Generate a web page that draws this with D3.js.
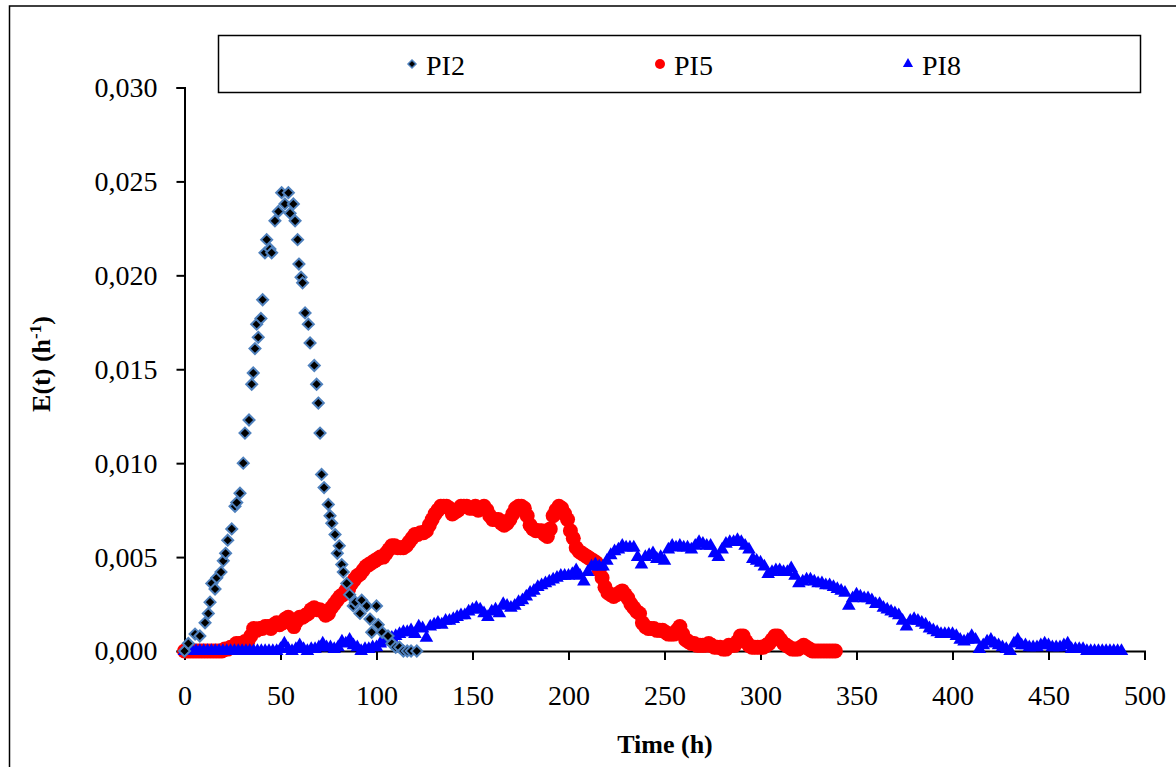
<!DOCTYPE html>
<html>
<head>
<meta charset="utf-8">
<script src="https://cdn.jsdelivr.net/npm/d3@7"></script>
<style>
  body { margin: 0; background: #fff; }
  svg { display: block; }
</style>
</head>
<body>
<div id="chart"></div>
<script>
const svgWidth = 1176;
const svgHeight = 767;

// Data: time (h) and E(t) (h-1)
const seriesNames = ["PI2", "PI5", "PI8"];

const pi2Time = [0, 2, 5.5, 8, 10.7, 12.4, 13.3, 14.2, 15.9, 16.8, 19, 20.2, 21.4, 22.5, 24.6, 26.3, 27.2, 28.9, 30.6, 31.5,
  33.6, 35, 35.8, 36.7, 37.6, 38.4, 39.8, 40.7, 41.9, 42.8, 44.5, 45.4, 47.1, 48.9, 50.6, 52.3, 54.1, 55, 56.7, 57.6,
  58.9, 59.6, 60.7, 61.5, 62.8, 64.5, 65.4, 67.6, 68.8, 69.7, 70.6, 71.4, 72.7, 74.9, 75.8, 76.7, 78.4, 79.6, 80.6, 81.9,
  82.7, 84.5, 86, 87.9, 89, 91.4, 92.3, 94.9, 96.6, 97.5, 100, 100.9, 103, 106, 108, 110, 112, 114, 116, 118, 121];
const pi2E = [0, 0.0004, 0.0009, 0.0008, 0.0015, 0.0020, 0.0026, 0.0036, 0.0033, 0.0039, 0.0042, 0.0048, 0.0052, 0.0059, 0.0065, 0.0077, 0.0079, 0.0084, 0.0100, 0.0116,
  0.0123, 0.0142, 0.0148, 0.0161, 0.0174, 0.0167, 0.0177, 0.0187, 0.0212, 0.0219, 0.0214, 0.0212, 0.0229, 0.0234, 0.0244, 0.0238, 0.0244, 0.0233, 0.0238, 0.0229,
  0.0219, 0.0206, 0.0199, 0.0196, 0.0180, 0.0174, 0.0164, 0.0152, 0.0142, 0.0132, 0.0116, 0.0094, 0.0087, 0.0078, 0.0072, 0.0068, 0.0062, 0.0052, 0.0056, 0.0046,
  0.0042, 0.0036, 0.0030, 0.0024, 0.0026, 0.0020, 0.0027, 0.0024, 0.0017, 0.0010, 0.0024, 0.0014, 0.0010, 0.0008, 0.0004, 0.0002, 0.0002, 0, 0, 0, 0];

const pi5Time = [0, 1.5, 3, 4.5, 6, 7.5, 9, 10.5, 12, 13.5, 15, 16.5, 18, 19.5, 21, 22.5, 24, 25.5, 27, 28.5,
  30, 31.5, 33, 34.5, 36, 37.5, 39, 40.5, 42, 43.5, 45, 46.5, 48, 49.5, 51, 52.5, 54, 55.5, 57, 58.5,
  60, 61.5, 63, 64.5, 66, 67.5, 69, 70.5, 72, 73.5, 75, 76.5, 78, 79.5, 81, 82.5, 84, 85.5, 87, 88.5,
  90, 91.5, 93, 94.5, 96, 97.5, 99, 100.5, 102, 103.5, 105, 106.5, 108, 109.5, 111, 112.5, 114, 115.5, 117, 118.5,
  120, 121.5, 123, 124.5, 126, 127.5, 129, 130.5, 132, 133.5, 135, 136.5, 138, 139.5, 141, 142.5, 144, 145.5, 147, 148.5,
  150, 151.5, 153, 154.5, 156, 157.5, 159, 160.5, 162, 163.5, 165, 166.5, 168, 169.5, 171, 172.5, 174, 175.5, 177, 178.5,
  180, 181.5, 183, 184.5, 186, 187.5, 189, 190.5, 192, 193.5, 195, 196.5, 198, 199.5, 201, 202.5, 204, 205.5, 207, 208.5,
  210, 211.5, 213, 214.5, 216, 217.5, 219, 220.5, 222, 223.5, 225, 226.5, 228, 229.5, 231, 232.5, 234, 235.5, 237, 238.5,
  240, 241.5, 243, 244.5, 246, 247.5, 249, 250.5, 252, 253.5, 255, 256.5, 258, 259.5, 261, 262.5, 264, 265.5, 267, 268.5,
  270, 271.5, 273, 274.5, 276, 277.5, 279, 280.5, 282, 283.5, 285, 286.5, 288, 289.5, 291, 292.5, 294, 295.5, 297, 298.5,
  300, 301.5, 303, 304.5, 306, 307.5, 309, 310.5, 312, 313.5, 315, 316.5, 318, 319.5, 321, 322.5, 324, 325.5, 327, 328.5,
  330, 331.5, 333, 334.5, 336, 337.5, 339];
const pi5E = [0, 0, 0, 0, 0, 0, 0, 0, 0, 0, 0, 0, 0, 0, 0.0001, 0.0001, 0.0002, 0.0002, 0.0004, 0.0004,
  0.0004, 0.0005, 0.0005, 0.0008, 0.0012, 0.0011, 0.0012, 0.0012, 0.0013, 0.0013, 0.0012, 0.0014, 0.0015, 0.0014, 0.0015, 0.0017, 0.0018, 0.0015, 0.0013, 0.0016,
  0.0018, 0.0018, 0.0019, 0.0020, 0.0022, 0.0023, 0.0022, 0.0022, 0.0021, 0.0019, 0.0020, 0.0023, 0.0025, 0.0027, 0.0029, 0.0030, 0.0032, 0.0033, 0.0036, 0.0038,
  0.0040, 0.0041, 0.0043, 0.0045, 0.0046, 0.0047, 0.0048, 0.0049, 0.0050, 0.0050, 0.0052, 0.0054, 0.0056, 0.0056, 0.0055, 0.0055, 0.0055, 0.0056, 0.0058, 0.0060,
  0.0062, 0.0062, 0.0063, 0.0063, 0.0064, 0.0067, 0.0070, 0.0073, 0.0075, 0.0077, 0.0077, 0.0077, 0.0076, 0.0073, 0.0074, 0.0075, 0.0077, 0.0077, 0.0077, 0.0076,
  0.0076, 0.0077, 0.0075, 0.0076, 0.0077, 0.0075, 0.0072, 0.0070, 0.0070, 0.0070, 0.0068, 0.0067, 0.0068, 0.0070, 0.0073, 0.0076, 0.0077, 0.0077, 0.0076, 0.0072,
  0.0067, 0.0065, 0.0064, 0.0064, 0.0064, 0.0062, 0.0061, 0.0065, 0.0072, 0.0075, 0.0077, 0.0076, 0.0073, 0.0070, 0.0064, 0.0060, 0.0055, 0.0053, 0.0052, 0.0051,
  0.0050, 0.0049, 0.0048, 0.0047, 0.0043, 0.0039, 0.0034, 0.0031, 0.0030, 0.0029, 0.0030, 0.0031, 0.0032, 0.0030, 0.0028, 0.0025, 0.0023, 0.0021, 0.0020, 0.0015,
  0.0013, 0.0012, 0.0012, 0.0012, 0.0011, 0.0011, 0.0011, 0.0010, 0.0009, 0.0009, 0.0009, 0.0011, 0.0013, 0.0009, 0.0006, 0.0005, 0.0004, 0.0004, 0.0003, 0.0003,
  0.0003, 0.0003, 0.0004, 0.0003, 0.0002, 0.0002, 0.0002, 0.0001, 0.0001, 0.0003, 0.0003, 0.0003, 0.0005, 0.0008, 0.0008, 0.0005, 0.0003, 0.0002, 0.0002, 0.0002,
  0.0002, 0.0002, 0.0003, 0.0004, 0.0006, 0.0008, 0.0008, 0.0006, 0.0004, 0.0003, 0.0002, 0.0001, 0.0001, 0.0001, 0.0002, 0.0003, 0.0002, 0.0001, 0, 0,
  0, 0, 0, 0, 0, 0, 0];

const pi8Time = [0, 2, 4, 6, 8, 10, 12, 14, 16, 18, 20, 22, 24, 26, 28, 30, 32, 34, 36, 38,
  40, 42, 44, 46, 48, 50, 52, 54, 56, 58, 60, 62, 64, 66, 68, 70, 72, 74, 76, 78,
  80, 82, 84, 86, 88, 90, 92, 94, 96, 98, 100, 102, 104, 106, 108, 110, 112, 114, 116, 118,
  120, 122, 124, 126, 128, 130, 132, 134, 136, 138, 140, 142, 144, 146, 148, 150, 152, 154, 156, 158,
  160, 162, 164, 166, 168, 170, 172, 174, 176, 178, 180, 182, 184, 186, 188, 190, 192, 194, 196, 198,
  200, 202, 204, 206, 208, 210, 212, 214, 216, 218, 220, 222, 224, 226, 228, 230, 232, 234, 236, 238,
  240, 242, 244, 246, 248, 250, 252, 254, 256, 258, 260, 262, 264, 266, 268, 270, 272, 274, 276, 278,
  280, 282, 284, 286, 288, 290, 292, 294, 296, 298, 300, 302, 304, 306, 308, 310, 312, 314, 316, 318,
  320, 322, 324, 326, 328, 330, 332, 334, 336, 338, 340, 342, 344, 346, 348, 350, 352, 354, 356, 358,
  360, 362, 364, 366, 368, 370, 372, 374, 376, 378, 380, 382, 384, 386, 388, 390, 392, 394, 396, 398,
  400, 402, 404, 406, 408, 410, 412, 414, 416, 418, 420, 422, 424, 426, 428, 430, 432, 434, 436, 438,
  440, 442, 444, 446, 448, 450, 452, 454, 456, 458, 460, 462, 464, 466, 468, 470, 472, 474, 476, 478,
  480, 482, 484, 486, 488];
const pi8E = [0, 0, 0, 0, 0, 0, 0, 0, 0, 0, 0, 0, 0, 0, 0, 0, 0, 0, 0, 0,
  0, 0, 0, 0, 0, 0.0001, 0.0004, 0.0001, 0, 0.0001, 0.0003, 0.0001, 0, 0.0001, 0.0001, 0.0002, 0.0004, 0.0002, 0.0002, 0.0001,
  0.0002, 0.0005, 0.0004, 0.0006, 0.0003, 0.0002, 0, 0.0001, 0.0001, 0.0002, 0.0002, 0.0004, 0.0005, 0.0007, 0.0007, 0.0008, 0.0009, 0.0010, 0.0010, 0.0011,
  0.0009, 0.0013, 0.0012, 0.0007, 0.0013, 0.0014, 0.0015, 0.0014, 0.0016, 0.0016, 0.0017, 0.0018, 0.0019, 0.0019, 0.0021, 0.0022, 0.0023, 0.0022, 0.0020, 0.0018,
  0.0021, 0.0022, 0.0020, 0.0025, 0.0024, 0.0023, 0.0024, 0.0026, 0.0027, 0.0029, 0.0031, 0.0032, 0.0034, 0.0035, 0.0036, 0.0037, 0.0038, 0.0039, 0.0040, 0.0040,
  0.0040, 0.0041, 0.0043, 0.0040, 0.0037, 0.0042, 0.0045, 0.0046, 0.0045, 0.0045, 0.0048, 0.0051, 0.0053, 0.0054, 0.0056, 0.0055, 0.0055, 0.0055, 0.0050, 0.0046,
  0.0050, 0.0051, 0.0052, 0.0049, 0.0050, 0.0048, 0.0054, 0.0056, 0.0055, 0.0056, 0.0055, 0.0055, 0.0054, 0.0056, 0.0058, 0.0057, 0.0056, 0.0056, 0.0052, 0.0050,
  0.0054, 0.0057, 0.0058, 0.0058, 0.0059, 0.0058, 0.0056, 0.0054, 0.0049, 0.0048, 0.0047, 0.0045, 0.0041, 0.0042, 0.0043, 0.0043, 0.0042, 0.0042, 0.0044, 0.0040,
  0.0036, 0.0037, 0.0038, 0.0038, 0.0037, 0.0036, 0.0036, 0.0035, 0.0035, 0.0034, 0.0033, 0.0032, 0.0031, 0.0024, 0.0028, 0.0030, 0.0029, 0.0028, 0.0028, 0.0027,
  0.0025, 0.0025, 0.0023, 0.0022, 0.0021, 0.0020, 0.0019, 0.0016, 0.0013, 0.0016, 0.0017, 0.0016, 0.0015, 0.0014, 0.0012, 0.0011, 0.0010, 0.0009, 0.0009, 0.0009,
  0.0009, 0.0008, 0.0006, 0.0005, 0.0006, 0.0008, 0.0006, 0.0001, 0.0003, 0.0005, 0.0006, 0.0004, 0.0003, 0.0002, 0.0001, 0, 0.0004, 0.0006, 0.0003, 0.0003,
  0.0002, 0.0002, 0.0002, 0.0003, 0.0004, 0.0003, 0.0002, 0.0002, 0.0002, 0.0003, 0.0004, 0.0001, 0.0001, 0.0001, 0.0001, 0, 0, 0, 0, 0,
  0, 0, 0, 0, 0];

const xTicks = [0, 50, 100, 150, 200, 250, 300, 350, 400, 450, 500];
const yTicks = [0, 0.005, 0.010, 0.015, 0.020, 0.025, 0.030];

const zip = (ts, es) => ts.map((t, i) => ({t: t, e: es[i]}));
const pi2 = zip(pi2Time, pi2E);
const pi5 = zip(pi5Time, pi5E);
const pi8 = zip(pi8Time, pi8E);

const font = "'Liberation Serif', 'Times New Roman', serif";
const comma = d3.formatLocale({decimal: ",", thousands: ".", grouping: [3], currency: ["", ""]});

const x = d3.scaleLinear().domain([0, 500]).range([184.5, 1144.5]);
const y = d3.scaleLinear().domain([0, 0.030]).range([651, 87.5]);

const svg = d3.select("#chart")
    .append("svg")
    .attr("width", svgWidth)
    .attr("height", svgHeight);

// outer chart frame (runs off the right and bottom edge)
svg.append("rect")
    .attr("x", 9.5)
    .attr("y", 6)
    .attr("width", 1200)
    .attr("height", 800)
    .attr("fill", "none")
    .attr("stroke", "#000")
    .attr("stroke-width", 1.5);

// axes
const xAxis = d3.axisBottom(x)
    .tickValues(xTicks)
    .tickSize(9)
    .tickPadding(25)
    .tickFormat(d3.format("d"));

const yAxis = d3.axisLeft(y)
    .tickValues(yTicks)
    .tickSize(8)
    .tickPadding(19)
    .tickFormat(comma.format(".3f"));

const gx = svg.append("g")
    .attr("transform", `translate(0,${y(0)})`)
    .call(xAxis);

const gy = svg.append("g")
    .attr("transform", `translate(${x(0)},0)`)
    .call(yAxis);

[gx, gy].forEach(g => {
    g.selectAll("path, line").attr("stroke", "#000").attr("stroke-width", 2);
    g.selectAll("text")
        .attr("font-family", font)
        .attr("font-size", "28px")
        .attr("fill", "#000");
});

// axis titles
svg.append("text")
    .attr("x", 665)
    .attr("y", 753)
    .attr("text-anchor", "middle")
    .attr("font-family", font)
    .attr("font-size", "26px")
    .attr("font-weight", "bold")
    .text("Time (h)");

const yTitle = svg.append("text")
    .attr("transform", "translate(50,364) rotate(-90)")
    .attr("text-anchor", "middle")
    .attr("font-family", font)
    .attr("font-size", "26px")
    .attr("font-weight", "bold");
yTitle.append("tspan").text("E(t) (h");
yTitle.append("tspan").attr("font-size", "17px").attr("dy", "-9").text("-1");
yTitle.append("tspan").attr("dy", "9").text(")");

// marker shapes
const diamond = s => `M0,${-s}L${s},0L0,${s}L${-s},0Z`;
const triangle = d3.symbol().type(d3.symbolTriangle);

// PI5 red circles
svg.append("g")
    .selectAll("circle")
    .data(pi5)
    .join("circle")
    .attr("cx", d => x(d.t))
    .attr("cy", d => y(d.e))
    .attr("r", 7.5)
    .attr("fill", "#FF0000");

// PI8 blue triangles
svg.append("g")
    .selectAll("path")
    .data(pi8)
    .join("path")
    .attr("transform", d => `translate(${x(d.t)},${y(d.e)})`)
    .attr("d", triangle.size(80)())
    .attr("fill", "#0000FF");

// PI2 black diamonds with steel blue edge
svg.append("g")
    .selectAll("path")
    .data(pi2)
    .join("path")
    .attr("transform", d => `translate(${x(d.t)},${y(d.e)})`)
    .attr("d", diamond(5.5))
    .attr("fill", "#000")
    .attr("stroke", "#4F81BD")
    .attr("stroke-width", 2);

// legend
svg.append("rect")
    .attr("x", 218.5)
    .attr("y", 35.5)
    .attr("width", 922)
    .attr("height", 57)
    .attr("fill", "#fff")
    .attr("stroke", "#000")
    .attr("stroke-width", 1.5);

const legendX = d3.scalePoint().domain(seriesNames).range([412, 908]);
const legendY = 64;

svg.append("path")
    .attr("transform", `translate(${legendX("PI2")},${legendY})`)
    .attr("d", diamond(4))
    .attr("fill", "#000")
    .attr("stroke", "#4F81BD")
    .attr("stroke-width", 1.5);

svg.append("circle")
    .attr("cx", legendX("PI5"))
    .attr("cy", legendY)
    .attr("r", 5)
    .attr("fill", "#FF0000");

svg.append("path")
    .attr("transform", `translate(${legendX("PI8")},${legendY})`)
    .attr("d", triangle.size(45)())
    .attr("fill", "#0000FF");

svg.append("g")
    .selectAll("text")
    .data(seriesNames)
    .join("text")
    .attr("x", d => legendX(d) + 14)
    .attr("y", 75)
    .attr("font-family", font)
    .attr("font-size", "28px")
    .attr("fill", "#000")
    .text(d => d);
</script>
</body>
</html>
